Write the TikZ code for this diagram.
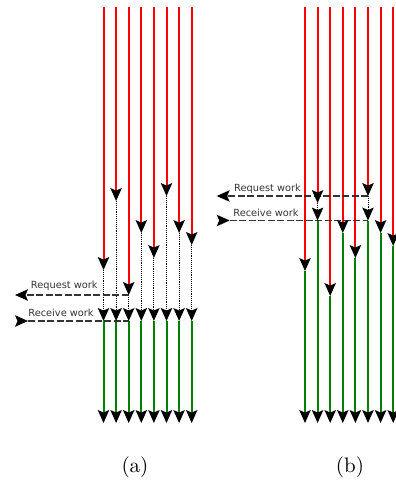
\documentclass[tikz,border=0pt]{standalone}
\usepackage{fontspec}
\newfontfamily\labelfont{DejaVu Sans}
\definecolor{busyred}{RGB}{255,0,0}
\definecolor{idlegreen}{RGB}{0,128,0}

\begin{document}
\begin{tikzpicture}[x=1pt,y=-1pt,
  busyline/.style={draw=busyred, line width=2pt},
  doneline/.style={draw=idlegreen, line width=2pt},
  waitline/.style={draw=black, densely dotted, line width=0.9pt},
  msgline/.style={draw=black!80, dash pattern=on 7pt off 2.5pt, line width=1.3pt},
  downhead/.pic={\fill (0,0) -- (-5.8,-13) -- (0,-10.5) -- (5.8,-13) -- cycle;},
  lefthead/.pic={\fill (0,0) -- (13,-5.8) -- (10.5,0) -- (13,5.8) -- cycle;},
  righthead/.pic={\fill (0,0) -- (-13,-5.8) -- (-10.5,0) -- (-13,5.8) -- cycle;},
  lbl/.style={font=\labelfont\fontsize{9.8}{10}\selectfont, text=black!80, inner sep=0pt},
  caption/.style={scale=2.1}]
  \useasboundingbox (0,0) rectangle (396,483);
  % Cas (a)
  \foreach \ty [count=\i] in {270,201,295,233,258,196,233,245} {
    \coordinate (atop\i) at ({103.5+12.6*(\i-1)},7);
    \coordinate (arun\i) at ({103.5+12.6*(\i-1)},\ty);
    \coordinate (abar\i) at ({103.5+12.6*(\i-1)},321);
    \coordinate (aend\i) at ({103.5+12.6*(\i-1)},423);
    \draw[busyline] (atop\i) -- ([yshift=5pt]arun\i);
    \draw[waitline] (arun\i) -- ([yshift=5pt]abar\i);
    \draw[doneline] (abar\i) -- ([yshift=5pt]aend\i);
  }
  \coordinate (areq) at (15,295);
  \coordinate (arcv) at (28,321);
  \draw[msgline] (arun3) -- (areq);
  \draw[msgline] (arcv) -- (abar3);
  \foreach \i in {1,...,8} {
    \pic at (arun\i) {downhead};
    \pic at (abar\i) {downhead};
    \pic at (aend\i) {downhead};
  }
  \pic at (areq) {lefthead};
  \pic at (arcv) {righthead};
  \node[lbl] (areqlbl) at (64.3,286) {Request work};
  \node[lbl] (arcvlbl) at (61,313) {Receive work};
  % Cas (b)
  \foreach \ty [count=\i] in {271,203,296,233,258,196,233,246} {
    \coordinate (btop\i) at ({305+12.6*(\i-1)},7);
    \coordinate (brun\i) at ({305+12.6*(\i-1)},\ty);
    \coordinate (bend\i) at ({305+12.6*(\i-1)},423);
    \draw[busyline] (btop\i) -- ([yshift=5pt]brun\i);
  }
  \foreach \i in {1,3,4,5,7,8}
    \draw[doneline] (brun\i) -- ([yshift=5pt]bend\i);
  \foreach \i in {2,6} {
    \coordinate (bbar\i) at (brun\i |- 0,220.5);
    \draw[waitline] (brun\i) -- ([yshift=5pt]bbar\i);
    \draw[doneline] (bbar\i) -- ([yshift=5pt]bend\i);
  }
  \coordinate (breq) at (216.7,196);
  \coordinate (brcv) at (229.7,220.5);
  \draw[msgline] (brun6) -- (breq);
  \draw[msgline] (brcv) -- (bbar6);
  \foreach \i in {1,...,8} {
    \pic at (brun\i) {downhead};
    \pic at (bend\i) {downhead};
  }
  \pic at (bbar2) {downhead};
  \pic at (bbar6) {downhead};
  \pic at (breq) {lefthead};
  \pic at (brcv) {righthead};
  \node[lbl] (breqlbl) at (267.5,189) {Request work};
  \node[lbl] (brcvlbl) at (266,213) {Receive work};
  % Legendes
  \node[caption] (capa) at (135,467) {(a)};
  \node[caption] (capb) at (350,467) {(b)};
\end{tikzpicture}
\end{document}
